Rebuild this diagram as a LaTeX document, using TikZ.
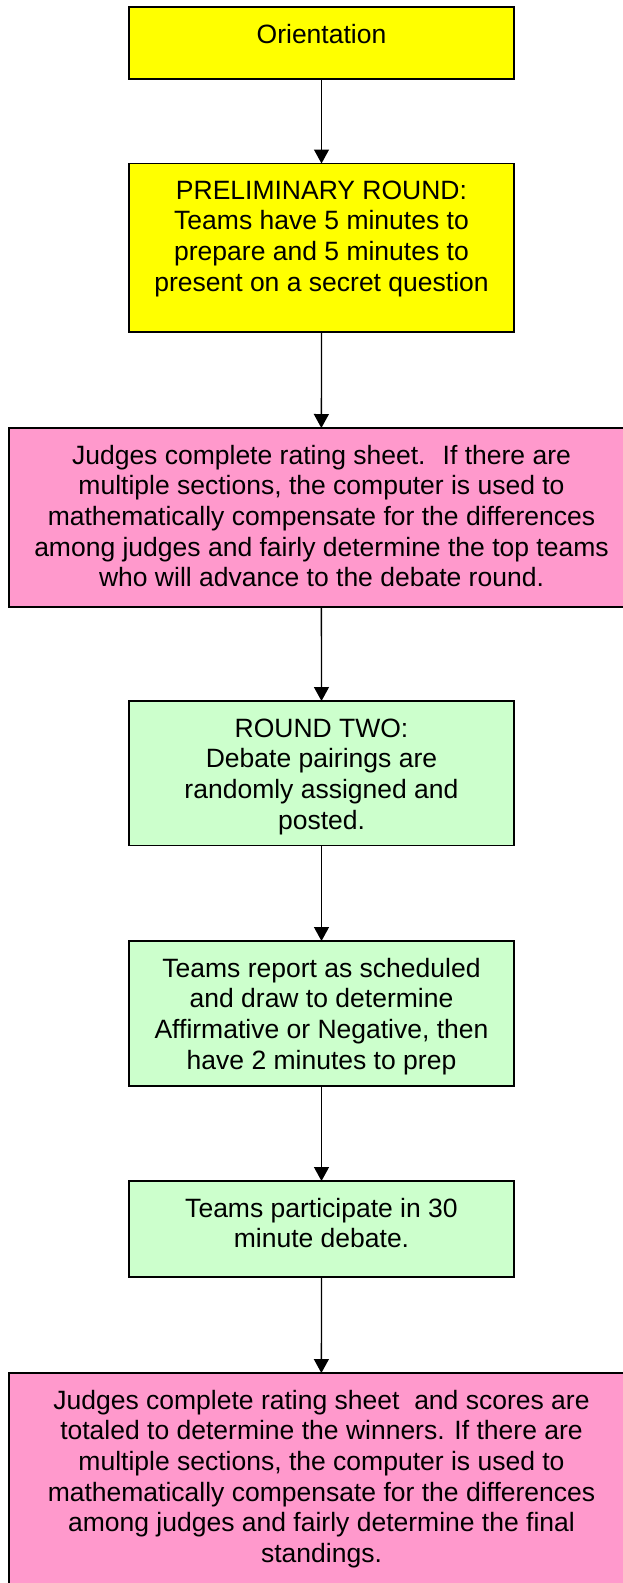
\documentclass[tikz,border=0pt]{standalone}
\usepackage{fontspec}
\setmainfont{Liberation Sans}
\usetikzlibrary{arrows.meta}
\definecolor{boxyellow}{HTML}{FFFF00}
\definecolor{boxpink}{HTML}{FF99CC}
\definecolor{boxgreen}{HTML}{CCFFCC}
\newcommand{\tstrut}{\rule{0pt}{20pt}}
\begin{document}
\begin{tikzpicture}[x=1pt,y=-1pt,
  box/.style={draw=black, line width=1.8pt, rectangle, inner sep=0pt, outer sep=0pt},
  narrowbox/.style={box, minimum width=384.4pt},
  widebox/.style={box, minimum width=625.3pt},
  txt/.style={anchor=north, inner sep=0pt, align=center, font=\fontsize{26.5}{30.6}\selectfont},
  flow/.style={line width=1.3pt, -{Triangle[width=15pt,length=14pt]}}]
\useasboundingbox (0,0) rectangle (623,1583);
\clip (0,0) rectangle (623,1583);
\fill[white] (0,0) rectangle (623,1583);
% boxes
\node[narrowbox, fill=boxyellow, minimum height=72pt] (b1) at (321.5,43) {};
\node[narrowbox, fill=boxyellow, minimum height=168.5pt] (b2) at (321.5,247.75) {};
\node[widebox, fill=boxpink, minimum height=179pt] (b3) at (321.35,517.5) {};
\node[narrowbox, fill=boxgreen, minimum height=144.5pt] (b4) at (321.5,773.25) {};
\node[narrowbox, fill=boxgreen, minimum height=144.7pt] (b5) at (321.5,1013.35) {};
\node[narrowbox, fill=boxgreen, minimum height=95.7pt] (b6) at (321.5,1228.85) {};
\node[widebox, fill=boxpink, minimum height=237pt] (b7) at (321.35,1491.5) {};
% texts
\node[txt] (t1) at (321.5,23) {\tstrut Orientation};
\node[txt] (t2) at (321.5,179) {\tstrut PRELIMINARY ROUND:\\Teams have 5 minutes to\\prepare and 5 minutes to\\present on a secret question};
\node[txt] (t3) at (321.5,444) {\tstrut Judges complete rating sheet.~ If there are\\multiple sections, the computer is used to\\mathematically compensate for the differences\\among judges and fairly determine the top teams\\who will advance to the debate round.};
\node[txt] (t4) at (321.5,717) {\tstrut ROUND TWO:\\Debate pairings are\\randomly assigned and\\posted.};
\node[txt] (t5) at (321.5,957) {\tstrut Teams report as scheduled\\and draw to determine\\Affirmative or Negative, then\\have 2 minutes to prep};
\node[txt] (t6) at (321.5,1197) {\tstrut Teams participate in 30\\minute debate.};
\node[txt] (t7) at (321.5,1389) {\tstrut Judges complete rating sheet~ and scores are\\totaled to determine the winners. If there are\\multiple sections, the computer is used to\\mathematically compensate for the differences\\among judges and fairly determine the final\\standings.};
% connectors
\draw[flow] (b1.south) -- (b2.north);
\draw[flow] (b2.south) -- (b3.north);
\draw[flow] (b3.south) -- (b4.north);
\draw[flow] (b4.south) -- (b5.north);
\draw[flow] (b5.south) -- (b6.north);
\draw[flow] (b6.south) -- (b7.north);
\end{tikzpicture}
\end{document}
